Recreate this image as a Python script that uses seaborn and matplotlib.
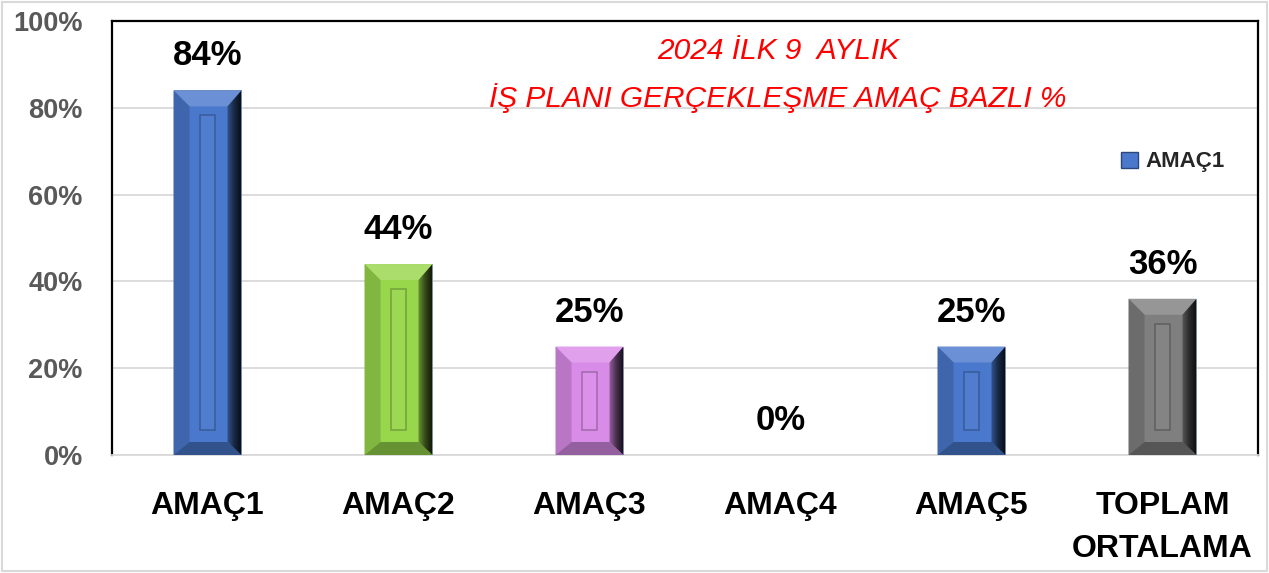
import matplotlib
matplotlib.use("Agg")
import numpy as np
import pandas as pd
import matplotlib.pyplot as plt
import seaborn as sns
from matplotlib.patches import Polygon, Rectangle, Patch
from matplotlib.colors import to_rgb, LinearSegmentedColormap

#%% data
categories = ["AMAÇ1", "AMAÇ2", "AMAÇ3", "AMAÇ4", "AMAÇ5", "TOPLAM\nORTALAMA"]
values = [0.84, 0.44, 0.25, 0.00, 0.25, 0.36]
value_labels = ["84%", "44%", "25%", "0%", "25%", "36%"]
bar_colors = ["#4A78CC", "#98D64C", "#D98BE8", "#4A78CC", "#4A78CC", "#7F7F7F"]
y_ticks = [0, 0.2, 0.4, 0.6, 0.8, 1.0]
y_tick_labels = ["0%", "20%", "40%", "60%", "80%", "100%"]
title_lines = ["2024 İLK 9  AYLIK", "İŞ PLANI GERÇEKLEŞME AMAÇ BAZLI %"]
legend_label = "AMAÇ1"

df = pd.DataFrame({"amac": categories, "oran": values})


def mix(c, other, t):
    c = np.array(to_rgb(c))
    o = np.array(to_rgb(other))
    return tuple(c * (1 - t) + o * t)


#%% figure
sns.set_theme(style="white")
plt.rcParams["font.family"] = ["Liberation Sans", "DejaVu Sans"]

fig = plt.figure(figsize=(12.69, 5.73), dpi=100)
ax = fig.add_axes([112 / 1269, 1 - 455 / 573, 1146 / 1269, 434 / 573])

sns.barplot(data=df, x="amac", y="oran", hue="amac", palette=bar_colors,
            legend=False, width=0.356, saturation=1, ax=ax,
            edgecolor="#6F7F99", linewidth=0.6, zorder=3)

ax.set_xlim(-0.5, 5.5)
ax.set_ylim(0, 1)
ax.set_yticks(y_ticks)
ax.set_yticklabels(y_tick_labels, fontsize=19.5, fontweight="bold", color="#595959")
ax.set_xticks(range(len(categories)))
ax.set_xticklabels(categories, fontsize=23, fontweight="bold", color="black",
                   linespacing=1.55)
ax.tick_params(axis="x", length=0, pad=26)
ax.tick_params(axis="y", length=0, pad=21)
ax.set_xlabel("")
ax.set_ylabel("")
ax.yaxis.grid(True, color="#D9D9D9", linewidth=1.3, zorder=0)
ax.set_axisbelow(True)
for side in ["left", "top", "right"]:
    ax.spines[side].set_color("black")
    ax.spines[side].set_linewidth(1.6)
ax.spines["bottom"].set_color("#D9D9D9")
ax.spines["bottom"].set_linewidth(1.3)

# pixel -> data helpers for the bevel effect
inv = ax.transData.inverted()
p0 = inv.transform((0, 0))


def px(dx, dy):
    p1 = inv.transform((dx, dy))
    return p1[0] - p0[0], p1[1] - p0[1]


L, T = px(16, 16)
R, B = px(14, 13)
IX, IY = px(26, 25)

for i, patch in enumerate(ax.patches):
    col = bar_colors[i]
    x0 = patch.get_x()
    w = patch.get_width()
    h = patch.get_height()
    x1 = x0 + w
    y0, y1 = 0, h
    # value label
    ax.annotate(value_labels[i], (x0 + w / 2, h), xytext=(0, 18),
                textcoords="offset points", ha="center", va="baseline",
                fontsize=25, fontweight="bold", color="black", zorder=6)
    if h <= 0:
        continue
    top = Polygon([(x0, y1), (x1, y1), (x1 - R, y1 - T), (x0 + L, y1 - T)],
                  closed=True, facecolor=mix(col, "white", 0.18), edgecolor="none", zorder=4)
    left = Polygon([(x0, y0), (x0, y1), (x0 + L, y1 - T), (x0 + L, y0 + B)],
                   closed=True, facecolor=mix(col, "black", 0.15), edgecolor="none", zorder=4)
    bottom = Polygon([(x0, y0), (x1, y0), (x1 - R, y0 + B), (x0 + L, y0 + B)],
                     closed=True, facecolor=mix(col, "black", 0.32), edgecolor="none", zorder=4)
    right = Polygon([(x1, y0), (x1, y1), (x1 - R, y1 - T), (x1 - R, y0 + B)],
                    closed=True, facecolor="none", edgecolor="none", zorder=4)
    for p in (top, left, bottom, right):
        ax.add_patch(p)
    cmap = LinearSegmentedColormap.from_list(
        "g", [mix(col, "black", 0.3), mix(col, "black", 0.65), mix(col, "black", 0.88)])
    im = ax.imshow(np.linspace(0, 1, 64).reshape(1, -1), cmap=cmap, aspect="auto",
                   extent=(x1 - R, x1, y0, y1), zorder=4.5, interpolation="bilinear")
    im.set_clip_path(right)
    # engraved inner panel
    if h > 2.2 * IY:
        inner = Rectangle((x0 + IX, y0 + IY), w - 2 * IX, h - 2 * IY,
                          facecolor=mix(col, "white", 0.04),
                          edgecolor=mix(col, "black", 0.25), linewidth=1.1, zorder=5)
        ax.add_patch(inner)

ax.set_xlim(-0.5, 5.5)
ax.set_ylim(0, 1)

# title
for line, yy in zip(title_lines, [1 - 51 / 573, 1 - 98 / 573]):
    fig.text(778 / 1269, yy, line, ha="center", va="center", fontsize=21.5,
             style="italic", color="#FF0000")

# legend (only first series shows, as in the source)
handle = Patch(facecolor=bar_colors[0], edgecolor=mix(bar_colors[0], "black", 0.4))
leg = ax.legend([handle], [legend_label], loc="center left",
                bbox_to_anchor=((1121 - 112) / 1146, (455 - 162) / 434),
                frameon=False, borderpad=0, borderaxespad=0,
                handlelength=0.75, handleheight=0.75, handletextpad=0.35,
                prop={"size": 16, "weight": "bold"})

# light outer border of the chart object
fig.patches.append(Rectangle((2 / 1269, 2 / 573), 1 - 4 / 1269, 1 - 4 / 573,
                             transform=fig.transFigure, fill=False,
                             edgecolor="#D9D9D9", linewidth=1.5))

fig.savefig("out.png", dpi=100)
